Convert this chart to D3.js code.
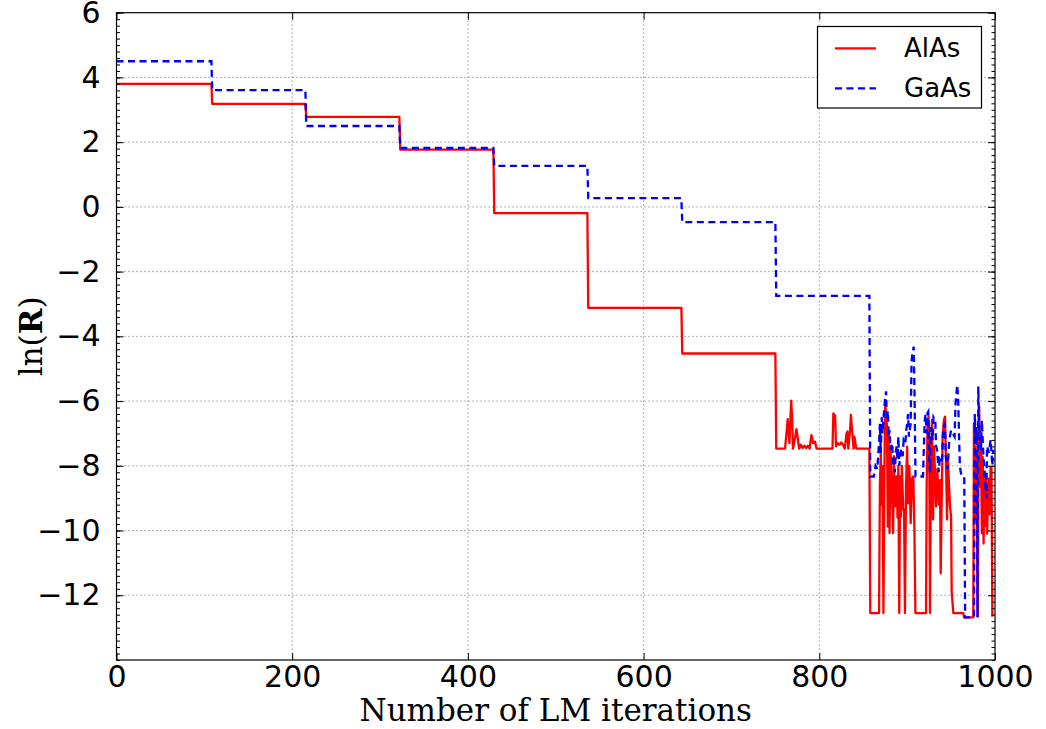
<!DOCTYPE html>
<html>
<head>
<meta charset="utf-8">
<script src="https://cdn.jsdelivr.net/npm/d3@7"></script>
<style>
  body { margin: 0; background: #fff; }
  text { fill: #000; }
</style>
</head>
<body>
<svg id="chart" width="1046" height="729"></svg>
<script>
// Convergence of the fit residual, ln(R), versus Levenberg–Marquardt iteration.

const seriesNames = ["AlAs", "GaAs"];
const seriesColors = ["#ff0000", "#0000ff"];

const xTicks = [0, 200, 400, 600, 800, 1000];
const yTicks = [-12, -10, -8, -6, -4, -2, 0, 2, 4, 6];

// AlAs: [iteration, ln(R)]
const alasTrace = [
  [0, 3.8], [108, 3.8], [109, 3.18], [215, 3.18], [216, 2.78], [322, 2.78],
  [323, 1.77], [429, 1.77], [430, -0.19], [536, -0.19], [537, -3.12], [643, -3.12],
  [644, -4.53], [750, -4.53], [751, -7.47],
  [761, -7.47], [763, -6.9], [764, -6.56], [766, -7.3], [767, -6.6], [768, -5.99],
  [769, -6.5], [770, -7.47], [772, -7.2], [774, -6.87], [776, -7.25], [777, -7.47],
  [779, -7.35], [781, -7.45], [783, -7.38], [785, -7.45], [787, -7.38], [789, -7.47],
  [791, -7.05], [793, -7.3], [795, -7.25], [797, -7.47], [815, -7.47], [816, -6.38],
  [818, -6.45], [819, -7.4], [821, -7.3], [823, -7.35], [825, -7.28], [827, -7.35],
  [829, -7.47], [831, -7.0], [832, -6.94], [833, -7.47], [835, -6.9], [836, -6.43],
  [837, -6.8], [839, -7.47], [840, -7.1], [842, -7.47], [857, -7.47],
  [858, -12.55], [868, -12.55], [869, -8.6], [870, -7.6], [871, -9.2], [872, -8.0],
  [873, -12.55], [874, -8.5], [875, -6.0], [876, -6.4], [877, -6.79], [878, -9.88],
  [879, -7.1], [880, -10.08], [881, -7.41], [882, -8.2], [884, -10.08], [885, -7.7],
  [886, -9.26], [888, -8.33], [889, -9.6], [890, -8.0], [891, -12.55], [892, -8.33],
  [893, -9.57], [894, -8.0], [895.5, -9.3], [896.5, -9.4], [897.5, -12.55], [898.7, -8.64],
  [900, -7.41], [901, -9.16], [902.5, -8.0], [904, -9.77], [905.5, -8.39], [907, -8.33],
  [908.2, -9.86], [909.4, -12.55], [921.5, -12.55], [922.2, -8.64], [923.3, -6.58],
  [924.5, -6.48], [925.2, -7.82], [926, -12.55], [927.2, -7.72], [928.3, -6.58],
  [929.5, -9.66], [930.6, -7.41], [931.7, -8.2], [932.9, -9.26], [934.4, -8.1],
  [936, -9.2], [937.4, -8.44], [938.2, -11.32], [939.3, -9.1], [940.4, -7.1],
  [941.9, -6.58], [943.1, -6.48], [944.2, -7.82], [945.4, -9.66], [946.5, -7.82],
  [947.7, -8.64], [948.8, -9.26], [950, -9.57], [950.7, -11.9], [952.6, -12.55],
  [964, -12.55], [964.7, -12.68], [975.3, -12.68], [976, -6.68], [977, -9.66],
  [978, -7.41], [979, -8.5], [980.5, -12.66], [981.3, -6.6], [982, -6.17], [983, -8.64],
  [984, -7.2], [985, -10.08], [986, -7.72], [987, -10.4], [988, -8.2], [989, -9.86],
  [990, -8.33], [991, -10.1], [992, -9.1], [993, -8.4], [994, -9.5], [995, -8.03],
  [996, -8.03], [997, -12.66]
];

// GaAs: [iteration, ln(R)]
const gaasTrace = [
  [0, 4.5], [108, 4.5], [109, 3.61], [215, 3.61], [216, 2.5], [322, 2.5],
  [323, 1.82], [429, 1.82], [430, 1.27], [536, 1.27], [537, 0.27], [643, 0.27],
  [644, -0.47], [750, -0.47], [751, -2.75], [857, -2.75], [858, -8.33], [862, -8.33],
  [864, -8.0], [866, -8.1], [868, -7.3], [869, -6.7], [870, -7.6], [871, -6.5],
  [872, -7.0], [874, -6.2], [875, -5.9], [876, -5.7], [877, -6.6], [878, -6.3],
  [879, -7.1], [880, -6.9], [881, -7.5], [883, -7.3], [884, -7.9], [886, -8.2],
  [887, -7.6], [888, -7.4], [889, -7.8], [890, -7.1], [891, -8.0], [893, -7.5],
  [895, -7.7], [896, -7.2], [898, -7.3], [899, -6.9], [900, -6.7], [901, -6.4],
  [902, -7.1], [903, -6.9], [904, -6.7], [905, -4.8], [906, -4.5], [907.5, -4.32],
  [908.5, -6.0], [909.5, -8.33], [918, -8.33], [920, -6.6], [921, -6.4], [922, -7.0],
  [923, -6.38], [924, -6.33], [925, -7.8], [926, -8.2], [927, -6.8], [928, -6.9],
  [929, -7.2], [930, -6.5], [932, -6.6], [933, -7.4], [934, -7.5], [936, -8.2],
  [937, -7.8], [939, -7.9], [940, -7.7], [941, -6.8], [943, -6.7], [944, -7.7],
  [946, -8.1], [948, -7.2], [950, -6.9], [952, -7.0], [954, -7.1], [955, -6.1],
  [957, -5.5], [958, -5.9], [959, -7.0], [960, -8.0], [961, -8.2], [962, -8.3],
  [965, -8.33], [966, -12.68], [976, -12.68], [977, -6.4], [978, -7.2], [979, -6.8],
  [980, -12.68], [981, -5.55], [982, -6.8], [983, -7.0], [984, -7.5], [985, -6.6],
  [987, -7.8], [988, -8.1], [989, -8.6], [990, -9.0], [991, -7.4], [993, -7.6],
  [995, -7.2], [997, -8.0], [998, -7.5]
];

const svg = d3.select("#chart");
const W = 1046, H = 729;
const plot = { left: 116.5, right: 995, top: 12.7, bottom: 660 };

svg.append("rect").attr("width", W).attr("height", H).attr("fill", "#fff");

const x = d3.scaleLinear().domain([0, 1000]).range([plot.left, plot.right]);
const y = d3.scaleLinear().domain([-14, 6]).range([plot.bottom, plot.top]);

const yMinor = d3.range(-14, 6.001, 0.2).map(v => +v.toFixed(1));

// dotted grid
const grid = svg.append("g").attr("stroke", "#000").attr("stroke-width", 0.8)
  .attr("stroke-dasharray", "1,3").attr("opacity", 0.75);
grid.selectAll(".gx").data(xTicks.slice(1, -1)).join("line")
  .attr("x1", d => x(d)).attr("x2", d => x(d))
  .attr("y1", plot.top).attr("y2", plot.bottom);
grid.selectAll(".gy").data(yTicks.filter(v => v > -14 && v < 6)).join("line")
  .attr("y1", d => y(d)).attr("y2", d => y(d))
  .attr("x1", plot.left).attr("x2", plot.right);

// data lines
svg.append("clipPath").attr("id", "plotclip").append("rect")
  .attr("x", plot.left).attr("y", plot.top)
  .attr("width", plot.right - plot.left).attr("height", plot.bottom - plot.top);

const line = d3.line().x(d => x(d[0])).y(d => y(d[1]));
const lines = svg.append("g").attr("clip-path", "url(#plotclip)");
lines.append("path").datum(alasTrace)
  .attr("d", line).attr("fill", "none")
  .attr("stroke", seriesColors[0]).attr("stroke-width", 2.3)
  .attr("stroke-linejoin", "round");
lines.append("path").datum(gaasTrace)
  .attr("d", line).attr("fill", "none")
  .attr("stroke", seriesColors[1]).attr("stroke-width", 2.3)
  .attr("stroke-dasharray", "7,4.5");

// axes
const tickFont = "DejaVu Sans";
function styleAxis(g) {
  g.select(".domain").remove();
  g.selectAll(".tick line").attr("stroke", "#000").attr("stroke-width", 1);
  g.selectAll("text").attr("font-family", tickFont).attr("font-size", 30).attr("fill", "#000");
}

svg.append("g").attr("transform", `translate(0,${plot.bottom})`)
  .call(d3.axisBottom(x).tickValues(xTicks).tickSizeInner(-7).tickSizeOuter(0).tickPadding(6)
    .tickFormat(d3.format("d")))
  .call(styleAxis);
svg.append("g").attr("transform", `translate(0,${plot.top})`)
  .call(d3.axisTop(x).tickValues(xTicks).tickSizeInner(-7).tickSizeOuter(0).tickFormat(""))
  .call(styleAxis);
svg.append("g").attr("transform", `translate(${plot.left},0)`)
  .call(d3.axisLeft(y).tickValues(yTicks).tickSizeInner(-7).tickSizeOuter(0).tickPadding(16)
    .tickFormat(d3.format("d")))
  .call(styleAxis);
svg.append("g").attr("transform", `translate(${plot.left},0)`)
  .call(d3.axisLeft(y).tickValues(yMinor).tickSizeInner(-3.5).tickSizeOuter(0).tickFormat(""))
  .call(styleAxis);
svg.append("g").attr("transform", `translate(${plot.right},0)`)
  .call(d3.axisRight(y).tickValues(yTicks).tickSizeInner(-7).tickSizeOuter(0).tickFormat(""))
  .call(styleAxis);
svg.append("g").attr("transform", `translate(${plot.right},0)`)
  .call(d3.axisRight(y).tickValues(yMinor).tickSizeInner(-3.5).tickSizeOuter(0).tickFormat(""))
  .call(styleAxis);

// frame
svg.append("rect")
  .attr("x", plot.left).attr("y", plot.top)
  .attr("width", plot.right - plot.left).attr("height", plot.bottom - plot.top)
  .attr("fill", "none").attr("stroke", "#000").attr("stroke-width", 1.2);

// axis titles
svg.append("text")
  .attr("x", (plot.left + plot.right) / 2).attr("y", 721)
  .attr("text-anchor", "middle")
  .attr("font-family", "DejaVu Serif").attr("font-size", 31)
  .text("Number of LM iterations");

const yTitle = svg.append("text")
  .attr("transform", `translate(42,${(plot.top + plot.bottom) / 2}) rotate(-90)`)
  .attr("text-anchor", "middle")
  .attr("font-family", "DejaVu Serif").attr("font-size", 31);
yTitle.append("tspan").text("ln(");
yTitle.append("tspan").attr("font-weight", "bold").text("R");
yTitle.append("tspan").text(")");

// legend
const legend = svg.append("g");
legend.append("rect")
  .attr("x", 817.5).attr("y", 26.5).attr("width", 164).attr("height", 81.5)
  .attr("fill", "#fff").attr("stroke", "#000").attr("stroke-width", 1.2);
const legendRows = legend.selectAll(".row").data(seriesNames).join("g")
  .attr("transform", (d, i) => `translate(0,${48.3 + i * 40})`);
legendRows.append("line")
  .attr("x1", 835).attr("x2", 876).attr("y1", 0).attr("y2", 0)
  .attr("stroke", (d, i) => seriesColors[i]).attr("stroke-width", 2.3)
  .attr("stroke-dasharray", (d, i) => i === 1 ? "7,4.5" : null);
legendRows.append("text")
  .attr("x", 904).attr("y", 9)
  .attr("font-family", tickFont).attr("font-size", 26)
  .text(d => d);
</script>
</body>
</html>
